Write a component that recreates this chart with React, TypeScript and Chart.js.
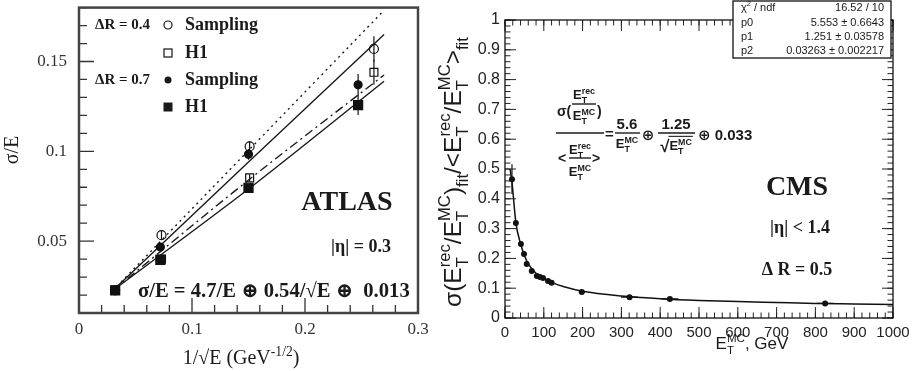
import React, { useEffect, useRef } from "react";
import { Chart, registerables } from "chart.js";
Chart.register(...registerables);

// ---------- LEFT PANEL (ATLAS) ----------
const L_X_TICKS = [0, 0.1, 0.2, 0.3];
const L_Y_TICKS = [0.05, 0.1, 0.15];
const L_X_MIN = 0, L_X_MAX = 0.3, L_Y_MIN = 0.01, L_Y_MAX = 0.18;

const OPEN_X = [0.032, 0.073, 0.151, 0.261];
const SAMP04_Y = [0.0226, 0.0533, 0.1027, 0.157];
const SAMP04_ERR = [0.001, 0.0025, 0.003, 0.007];
const H1_04_Y = [0.0226, 0.040, 0.0852, 0.144];
const H1_04_ERR = [0.001, 0.002, 0.002, 0.007];
const FILLED_X = [0.032, 0.072, 0.150, 0.247];
const SAMP07_Y = [0.0226, 0.0467, 0.0983, 0.137];
const SAMP07_ERR = [0.001, 0.002, 0.003, 0.006];
const H1_07_Y = [0.0226, 0.0396, 0.0797, 0.1257];
const H1_07_ERR = [0.001, 0.002, 0.002, 0.0055];

const FIT_X = [0.03, 0.15, 0.27];
const FIT_DOT_Y = [0.0225, 0.1005, 0.1785];
const FIT_SOLID_UP_Y = [0.0225, 0.094, 0.165];
const FIT_DASHDOT_Y = [0.0225, 0.084, 0.1425];
const FIT_SOLID_LOW_Y = [0.0225, 0.079, 0.139];

// ---------- RIGHT PANEL (CMS) ----------
const R_X_TICKS = [0, 100, 200, 300, 400, 500, 600, 700, 800, 900, 1000];
const R_Y_TICKS = [0, 0.1, 0.2, 0.3, 0.4, 0.5, 0.6, 0.7, 0.8, 0.9, 1];
const CMS_E = [18, 28, 41, 49, 56, 69, 82, 90, 98, 111, 120, 198, 321, 425, 825];
const CMS_RES = [0.466, 0.319, 0.248, 0.215, 0.181, 0.158, 0.141, 0.138, 0.134, 0.124, 0.118, 0.087, 0.070, 0.064, 0.049];
const CMS_ERR = [0.05, 0.008, 0.006, 0.005, 0.004, 0.004, 0.003, 0.003, 0.003, 0.003, 0.003, 0.003, 0.002, 0.002, 0.002];
const CMS_XERR = [0, 0, 0, 0, 0, 0, 0, 0, 0, 0, 0, 8, 22, 22, 22];
const CURVE_E = [13, 18, 28, 40, 50, 60, 80, 100, 125, 150, 200, 300, 400, 500, 600, 700, 800, 900, 1000];
const CURVE_RES = [0.50, 0.455, 0.32, 0.25, 0.21, 0.182, 0.15, 0.132, 0.117, 0.106, 0.09, 0.074, 0.065, 0.059, 0.055, 0.052, 0.049, 0.047, 0.045];

const STATS_LABELS = ["χ", "p0", "p1", "p2"];
const STATS_VALUES = ["16.52 / 10", "5.553 ± 0.6643", "1.251 ± 0.03578", "0.03263 ± 0.002217"];

const SERIF = "'Liberation Serif', 'DejaVu Serif', serif";
const SANS = "'Liberation Sans', 'DejaVu Sans', sans-serif";

type Tok = { b?: string; sup?: string; sub?: string };

function tokWidth(ctx: CanvasRenderingContext2D, t: Tok, size: number, fam: string, wt: string) {
  ctx.font = `${wt} ${size}px ${fam}`;
  const w = t.b ? ctx.measureText(t.b).width : 0;
  ctx.font = `${wt} ${size * 0.68}px ${fam}`;
  const ws = Math.max(t.sup ? ctx.measureText(t.sup).width : 0, t.sub ? ctx.measureText(t.sub).width : 0);
  return w + ws;
}
function richWidth(ctx: CanvasRenderingContext2D, toks: Tok[], size: number, fam: string, wt: string) {
  return toks.reduce((a, t) => a + tokWidth(ctx, t, size, fam, wt), 0);
}
function drawRich(ctx: CanvasRenderingContext2D, toks: Tok[], x: number, y: number, size: number, fam: string, wt: string, align = "left") {
  const W = richWidth(ctx, toks, size, fam, wt);
  let cx = align === "center" ? x - W / 2 : align === "right" ? x - W : x;
  ctx.textAlign = "left";
  ctx.textBaseline = "alphabetic";
  for (const t of toks) {
    ctx.font = `${wt} ${size}px ${fam}`;
    if (t.b) { ctx.fillText(t.b, cx, y); cx += ctx.measureText(t.b).width; }
    const s2 = size * 0.68;
    ctx.font = `${wt} ${s2}px ${fam}`;
    let ws = 0;
    if (t.sup) { ctx.fillText(t.sup, cx, y - size * 0.42); ws = Math.max(ws, ctx.measureText(t.sup).width); }
    if (t.sub) { ctx.fillText(t.sub, cx, y + size * 0.3); ws = Math.max(ws, ctx.measureText(t.sub).width); }
    cx += ws;
  }
  return W;
}

function range(a: number, b: number, step: number) {
  const out: number[] = [];
  for (let v = a; v <= b + step * 1e-6; v += step) out.push(Math.round(v * 1e6) / 1e6);
  return out;
}

function drawTicks(chart: any, cfg: { xMaj: number[]; xMin: number[]; yMaj: number[]; yMin: number[]; majLen: number; minLen: number; mirror: boolean; color: string; width: number }) {
  const { ctx, chartArea: a } = chart;
  const xs = chart.scales.x, ys = chart.scales.y;
  ctx.save();
  ctx.strokeStyle = cfg.color;
  ctx.lineWidth = cfg.width;
  ctx.beginPath();
  const doX = (vals: number[], len: number) => {
    for (const v of vals) {
      const px = xs.getPixelForValue(v);
      if (px < a.left - 0.5 || px > a.right + 0.5) continue;
      ctx.moveTo(px, a.bottom); ctx.lineTo(px, a.bottom - len);
      if (cfg.mirror) { ctx.moveTo(px, a.top); ctx.lineTo(px, a.top + len); }
    }
  };
  const doY = (vals: number[], len: number) => {
    for (const v of vals) {
      const py = ys.getPixelForValue(v);
      if (py < a.top - 0.5 || py > a.bottom + 0.5) continue;
      ctx.moveTo(a.left, py); ctx.lineTo(a.left + len, py);
      if (cfg.mirror) { ctx.moveTo(a.right, py); ctx.lineTo(a.right - len, py); }
    }
  };
  doX(cfg.xMin, cfg.minLen); doX(cfg.xMaj, cfg.majLen);
  doY(cfg.yMin, cfg.minLen); doY(cfg.yMaj, cfg.majLen);
  ctx.stroke();
  ctx.restore();
}

const errorBars = {
  id: "errorBars",
  beforeDatasetsDraw(chart: any) {
    const ctx = chart.ctx;
    const xs = chart.scales.x, ys = chart.scales.y;
    ctx.save();
    ctx.strokeStyle = "#111";
    ctx.lineWidth = 1.2;
    chart.data.datasets.forEach((ds: any) => {
      if (!ds.errY && !ds.errX) return;
      ds.data.forEach((p: any, i: number) => {
        const px = xs.getPixelForValue(p.x), py = ys.getPixelForValue(p.y);
        ctx.beginPath();
        if (ds.errY && ds.errY[i]) {
          ctx.moveTo(px, ys.getPixelForValue(p.y - ds.errY[i]));
          ctx.lineTo(px, ys.getPixelForValue(p.y + ds.errY[i]));
        }
        if (ds.errX && ds.errX[i]) {
          ctx.moveTo(xs.getPixelForValue(p.x - ds.errX[i]), py);
          ctx.lineTo(xs.getPixelForValue(p.x + ds.errX[i]), py);
        }
        ctx.stroke();
      });
    });
    ctx.restore();
  },
};

const pts = (xs: number[], ys: number[]) => xs.map((x, i) => ({ x, y: ys[i] }));

const fitX = (h: number) => (s: any) => { s.height = h; s.paddingLeft = 0; s.paddingRight = 0; s.paddingTop = 0; s.paddingBottom = 0; };
const fitY = (w: number) => (s: any) => { s.width = w; s.paddingLeft = 0; s.paddingRight = 0; s.paddingTop = 0; s.paddingBottom = 0; };

function leftConfig(): any {
  const marker = (label: string, xs: number[], ys: number[], err: number[], style: string, r: number, filled: boolean) => ({
    label, data: pts(xs, ys), errY: err, showLine: false,
    pointStyle: style, pointRadius: r, pointBorderWidth: 1.2,
    pointBorderColor: "#111", pointBackgroundColor: filled ? "#111" : "rgba(0,0,0,0)",
  });
  const line = (label: string, ys: number[], dash: number[]) => ({
    label, data: pts(FIT_X, ys), showLine: true, pointRadius: 0,
    borderColor: "#1a1a1a", borderWidth: 1.4, borderDash: dash, tension: 0.3,
  });
  const textPlugin = {
    id: "leftText",
    afterDraw(chart: any) {
      const ctx: CanvasRenderingContext2D = chart.ctx;
      const a = chart.chartArea;
      drawTicks(chart, {
        xMaj: L_X_TICKS, xMin: range(0, 0.3, 0.02), yMaj: L_Y_TICKS, yMin: range(0.01, 0.18, 0.01),
        majLen: 15, minLen: 8, mirror: false, color: "#333", width: 1.3,
      });
      ctx.save();
      ctx.strokeStyle = "#444";
      ctx.lineWidth = 2.5;
      ctx.strokeRect(a.left, a.top, a.right - a.left, a.bottom - a.top);
      ctx.fillStyle = "#1a1a1a";
      ctx.strokeStyle = "#111";
      ctx.lineWidth = 1.2;
      // legend
      ctx.textBaseline = "middle";
      ctx.textAlign = "left";
      ctx.font = `bold 15px ${SERIF}`;
      ctx.fillText("ΔR = 0.4", 95, 25);
      ctx.fillText("ΔR = 0.7", 95, 80);
      ctx.font = `bold 18px ${SERIF}`;
      ctx.fillText("Sampling", 185, 25);
      ctx.fillText("H1", 185, 53);
      ctx.fillText("Sampling", 185, 80);
      ctx.fillText("H1", 185, 107);
      ctx.beginPath(); ctx.arc(168, 25, 4, 0, Math.PI * 2); ctx.stroke();
      ctx.strokeRect(164, 49, 8, 8);
      ctx.beginPath(); ctx.arc(168, 80, 3.5, 0, Math.PI * 2); ctx.fill();
      ctx.fillRect(163.5, 102.5, 9, 9);
      // labels
      ctx.textAlign = "center";
      ctx.font = `bold 28px ${SERIF}`;
      ctx.fillText("ATLAS", 347, 203);
      ctx.font = `bold 18px ${SERIF}`;
      ctx.fillText("|η| = 0.3", 361, 247);
      const ftoks: Tok[] = [{ b: "σ/E = 4.7/E ⊕ 0.54/√E ⊕  0.013" }];
      const w20 = richWidth(ctx, ftoks, 20, SERIF, "bold");
      const fs = 20 * 272 / w20;
      drawRich(ctx, ftoks, 138, 290 + fs * 0.35, fs, SERIF, "bold", "left");
      // axis titles
      ctx.font = `20px ${SERIF}`;
      ctx.save();
      ctx.translate(13, 150);
      ctx.rotate(-Math.PI / 2);
      ctx.textAlign = "center";
      ctx.textBaseline = "middle";
      ctx.fillText("σ/E", 0, 0);
      ctx.restore();
      drawRich(ctx, [{ b: "1/√E (GeV", sup: "-1/2" }, { b: ")" }], 241, 364, 20, SERIF, "", "center");
      ctx.restore();
    },
  };
  return {
    type: "scatter",
    data: {
      datasets: [
        marker("ΔR = 0.4 Sampling", OPEN_X, SAMP04_Y, SAMP04_ERR, "circle", 4.5, false),
        marker("ΔR = 0.4 H1", OPEN_X, H1_04_Y, H1_04_ERR, "rect", 5.6, false),
        marker("ΔR = 0.7 Sampling", FILLED_X, SAMP07_Y, SAMP07_ERR, "circle", 4, true),
        marker("ΔR = 0.7 H1", FILLED_X, H1_07_Y, H1_07_ERR, "rect", 6.4, true),
        line("fit dotted", FIT_DOT_Y, [2, 4]),
        line("fit solid upper", FIT_SOLID_UP_Y, []),
        line("fit dash-dot", FIT_DASHDOT_Y, [9, 4, 2, 4]),
        line("fit solid lower", FIT_SOLID_LOW_Y, []),
      ],
    },
    options: {
      animation: false, responsive: false, devicePixelRatio: 1, events: [],
      layout: { padding: { top: 3, right: 22, left: 0, bottom: 0 } },
      plugins: { legend: { display: false }, tooltip: { enabled: false } },
      scales: {
        x: {
          type: "linear", min: L_X_MIN, max: L_X_MAX,
          grid: { display: false, drawTicks: false }, border: { display: false },
          afterBuildTicks: (s: any) => { s.ticks = L_X_TICKS.map((v) => ({ value: v })); },
          afterFit: fitX(58),
          ticks: { padding: 6, autoSkip: false, maxRotation: 0, color: "#333", font: { family: SERIF, size: 17 }, callback: (v: any) => String(v) },
        },
        y: {
          type: "linear", min: L_Y_MIN, max: L_Y_MAX,
          grid: { display: false, drawTicks: false }, border: { display: false },
          afterBuildTicks: (s: any) => { s.ticks = L_Y_TICKS.map((v) => ({ value: v })); },
          afterFit: fitY(79),
          ticks: { padding: 12, autoSkip: false, color: "#333", font: { family: SERIF, size: 17 }, callback: (v: any) => String(v) },
        },
      },
    },
    plugins: [errorBars, textPlugin],
  };
}

function drawE(ctx: CanvasRenderingContext2D, sup: string, cx: number, base: number, size: number, root = false) {
  const toks: Tok[] = [{ b: "E", sup, sub: "T" }];
  const w = richWidth(ctx, toks, size, SANS, "bold");
  let x0 = cx - w / 2;
  if (root) {
    ctx.font = `bold ${size * 1.3}px ${SANS}`;
    const rw = ctx.measureText("√").width;
    x0 = cx - (w + rw) / 2;
    ctx.textAlign = "left";
    ctx.textBaseline = "alphabetic";
    ctx.fillText("√", x0, base + 2);
    ctx.beginPath();
    ctx.moveTo(x0 + rw - 1, base - size * 1.05);
    ctx.lineTo(x0 + rw + w + 1, base - size * 1.05);
    ctx.stroke();
    x0 += rw;
  }
  drawRich(ctx, toks, x0, base, size, SANS, "bold", "left");
}

function rightConfig(): any {
  const OFF = 420;
  const DX = -25; // formula horizontal shift
  const textPlugin = {
    id: "rightText",
    afterDraw(chart: any) {
      const ctx: CanvasRenderingContext2D = chart.ctx;
      const a = chart.chartArea;
      drawTicks(chart, {
        xMaj: R_X_TICKS, xMin: range(0, 1000, 20), yMaj: R_Y_TICKS, yMin: range(0, 1, 0.02),
        majLen: 11, minLen: 5.5, mirror: true, color: "#222", width: 1,
      });
      ctx.save();
      ctx.strokeStyle = "#111";
      ctx.lineWidth = 1.3;
      ctx.strokeRect(a.left, a.top, a.right - a.left, a.bottom - a.top);
      // stats box
      ctx.fillStyle = "#fff";
      ctx.fillRect(733 - OFF, 1, 158, 57);
      ctx.strokeRect(733 - OFF, 1, 158, 57);
      ctx.fillStyle = "#1a1a1a";
      const rowsY = [11, 26, 40, 54];
      STATS_LABELS.forEach((lab, i) => {
        if (i === 0) drawRich(ctx, [{ b: "χ", sup: "2" }, { b: " / ndf" }], 741 - OFF, rowsY[i], 11, SANS, "", "left");
        else { ctx.font = `11px ${SANS}`; ctx.textAlign = "left"; ctx.textBaseline = "alphabetic"; ctx.fillText(lab, 741 - OFF, rowsY[i]); }
        ctx.font = `11px ${SANS}`; ctx.textAlign = "right"; ctx.textBaseline = "alphabetic";
        ctx.fillText(STATS_VALUES[i], 884 - OFF, rowsY[i]);
      });
      // formula
      const o = OFF - DX;
      ctx.strokeStyle = "#1a1a1a";
      ctx.lineWidth = 1.4;
      const fsz = 13;
      ctx.font = `bold 14px ${SANS}`;
      ctx.textAlign = "left"; ctx.textBaseline = "alphabetic";
      ctx.fillText("σ(", 582 - o, 116);
      drawE(ctx, "rec", 609 - o, 99, fsz);
      ctx.beginPath(); ctx.moveTo(597 - o, 104); ctx.lineTo(621 - o, 104); ctx.stroke();
      drawE(ctx, "MC", 609 - o, 120, fsz);
      ctx.font = `bold 14px ${SANS}`;
      ctx.fillText(")", 622 - o, 116);
      ctx.beginPath(); ctx.moveTo(581 - o, 133); ctx.lineTo(629 - o, 133); ctx.stroke();
      ctx.font = `bold 14px ${SANS}`;
      ctx.fillText("<", 583 - o, 163);
      drawE(ctx, "rec", 605 - o, 154, fsz);
      ctx.beginPath(); ctx.moveTo(594 - o, 158); ctx.lineTo(616 - o, 158); ctx.stroke();
      drawE(ctx, "MC", 605 - o, 176, fsz);
      ctx.font = `bold 14px ${SANS}`;
      ctx.fillText(">", 617 - o, 163);
      ctx.font = `bold 15px ${SANS}`;
      ctx.fillText("=", 630 - o, 139);
      ctx.textAlign = "center";
      ctx.fillText("5.6", 652 - o, 129);
      ctx.beginPath(); ctx.moveTo(640 - o, 133); ctx.lineTo(665 - o, 133); ctx.stroke();
      drawE(ctx, "MC", 652 - o, 148, fsz);
      ctx.font = `bold 15px ${SANS}`;
      ctx.textAlign = "center";
      ctx.fillText("⊕", 673 - o, 140);
      ctx.fillText("1.25", 701 - o, 129);
      ctx.beginPath(); ctx.moveTo(683 - o, 133); ctx.lineTo(720 - o, 133); ctx.stroke();
      ctx.lineWidth = 1.1;
      drawE(ctx, "MC", 701 - o, 150, fsz, true);
      ctx.font = `bold 15px ${SANS}`;
      ctx.textAlign = "left";
      ctx.fillText("⊕ 0.033", 723 - o, 140);
      // labels
      ctx.textAlign = "center"; ctx.textBaseline = "middle";
      ctx.font = `bold 28px ${SERIF}`;
      ctx.fillText("CMS", 797 - OFF, 188);
      ctx.font = `bold 18px ${SERIF}`;
      ctx.fillText("|η| < 1.4", 800 - OFF, 228);
      ctx.fillText("Δ R = 0.5", 797 - OFF, 270);
      // axis titles
      drawRich(ctx, [{ b: "E", sup: "MC", sub: "T" }, { b: ", GeV" }], 752 - OFF, 349, 17, SANS, "", "center");
      const ytoks: Tok[] = [
        { b: "σ(E", sup: "rec", sub: "T" }, { b: "/E", sup: "MC", sub: "T" }, { b: ")", sub: "fit" },
        { b: "/<E", sup: "rec", sub: "T" }, { b: "/E", sup: "MC", sub: "T" }, { b: ">", sub: "fit" },
      ];
      const w16 = richWidth(ctx, ytoks, 16, SANS, "");
      const ysz = 16 * 270 / w16;
      ctx.save();
      ctx.translate(452 - OFF, 172);
      ctx.rotate(-Math.PI / 2);
      drawRich(ctx, ytoks, 0, ysz * 0.35, ysz, SANS, "", "center");
      ctx.restore();
      ctx.restore();
    },
  };
  return {
    type: "scatter",
    data: {
      datasets: [
        {
          label: "CMS points", data: pts(CMS_E, CMS_RES), errY: CMS_ERR, errX: CMS_XERR, showLine: false,
          pointStyle: "circle", pointRadius: 3, pointBackgroundColor: "#111", pointBorderColor: "#111", pointBorderWidth: 0,
        },
        {
          label: "fit", data: pts(CURVE_E, CURVE_RES), showLine: true, pointRadius: 0,
          borderColor: "#111", borderWidth: 1.5, cubicInterpolationMode: "monotone",
        },
      ],
    },
    options: {
      animation: false, responsive: false, devicePixelRatio: 1, events: [],
      layout: { padding: { top: 20, right: 27, left: 0, bottom: 0 } },
      plugins: { legend: { display: false }, tooltip: { enabled: false } },
      scales: {
        x: {
          type: "linear", min: 0, max: 1000,
          grid: { display: false, drawTicks: false }, border: { display: false },
          afterBuildTicks: (s: any) => { s.ticks = R_X_TICKS.map((v) => ({ value: v })); },
          afterFit: fitX(53),
          ticks: { padding: 6, autoSkip: false, maxRotation: 0, color: "#222", font: { family: SANS, size: 15 }, callback: (v: any) => String(v) },
        },
        y: {
          type: "linear", min: 0, max: 1,
          grid: { display: false, drawTicks: false }, border: { display: false },
          afterBuildTicks: (s: any) => { s.ticks = R_Y_TICKS.map((v) => ({ value: v })); },
          afterFit: fitY(85),
          ticks: { padding: 5, autoSkip: false, color: "#222", font: { family: SANS, size: 16 }, callback: (v: any) => String(v) },
        },
      },
    },
    plugins: [errorBars, textPlugin],
  };
}

export default function App() {
  const leftRef = useRef<HTMLCanvasElement>(null);
  const rightRef = useRef<HTMLCanvasElement>(null);
  useEffect(() => {
    const c1 = new Chart(leftRef.current as HTMLCanvasElement, leftConfig());
    const c2 = new Chart(rightRef.current as HTMLCanvasElement, rightConfig());
    return () => { c1.destroy(); c2.destroy(); };
  }, []);
  return (
    <div style={{ position: "fixed", left: 0, top: 0, width: 920, height: 371, background: "#fff" }}>
      <canvas ref={leftRef} width={440} height={371} style={{ position: "absolute", left: 0, top: 0, width: 440, height: 371 }} />
      <canvas ref={rightRef} width={500} height={371} style={{ position: "absolute", left: 420, top: 0, width: 500, height: 371 }} />
    </div>
  );
}
